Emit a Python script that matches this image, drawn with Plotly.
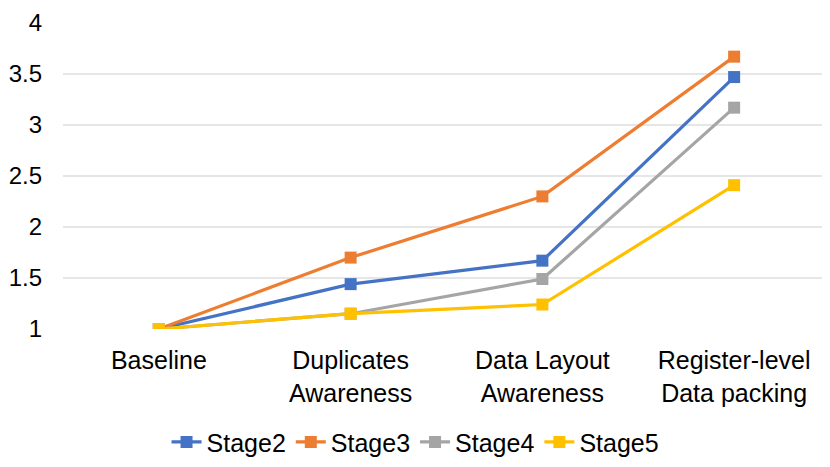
import plotly.graph_objects as go

# Data
categories = ["Baseline", "Duplicates<br>Awareness", "Data Layout<br>Awareness",
              "Register-level<br>Data packing"]
stage2 = [1.0, 1.44, 1.67, 3.47]
stage3 = [1.0, 1.70, 2.30, 3.67]
stage4 = [1.0, 1.15, 1.49, 3.17]
stage5 = [1.0, 1.15, 1.24, 2.41]

series = [
    ("Stage2", stage2, "#4472C4"),
    ("Stage3", stage3, "#ED7D31"),
    ("Stage4", stage4, "#A5A5A5"),
    ("Stage5", stage5, "#FFC000"),
]

fig = go.Figure()

for name, vals, color in series:
    fig.add_trace(go.Scatter(
        x=categories,
        y=vals,
        mode="lines+markers",
        name=name,
        line=dict(color=color, width=3.2),
        marker=dict(symbol="square", size=12, color=color, line=dict(width=0)),
    ))

# page puts the figure ~8px in from the top-left, so size it to fit the window
fig.update_layout(
    width=822,
    height=459,
    margin=dict(l=55, r=0, t=15, b=138),
    paper_bgcolor="white",
    plot_bgcolor="white",
    font=dict(family="Liberation Sans, Arial, sans-serif", size=25, color="#000000"),
    showlegend=True,
    legend=dict(
        orientation="h",
        x=0.135,
        xanchor="left",
        y=-0.37,
        yanchor="middle",
        font=dict(size=25),
        itemwidth=30,
        tracegroupgap=0,
    ),
)

fig.update_xaxes(
    type="category",
    range=[-0.5, 3.5],
    automargin=False,
    showgrid=False,
    showline=False,
    zeroline=False,
    ticks="",
    ticklabelstandoff=14,
    tickfont=dict(size=25),
)

fig.update_yaxes(
    range=[1, 4],
    automargin=False,
    tickvals=[1, 1.5, 2, 2.5, 3, 3.5, 4],
    ticktext=["1", "1.5", "2", "2.5", "3", "3.5", "4"],
    showgrid=True,
    gridcolor="#E6E6E6",
    gridwidth=1.5,
    zeroline=False,
    showline=False,
    ticks="",
    ticklabelstandoff=20,
    tickfont=dict(size=24),
)

fig.write_html("out.html")
